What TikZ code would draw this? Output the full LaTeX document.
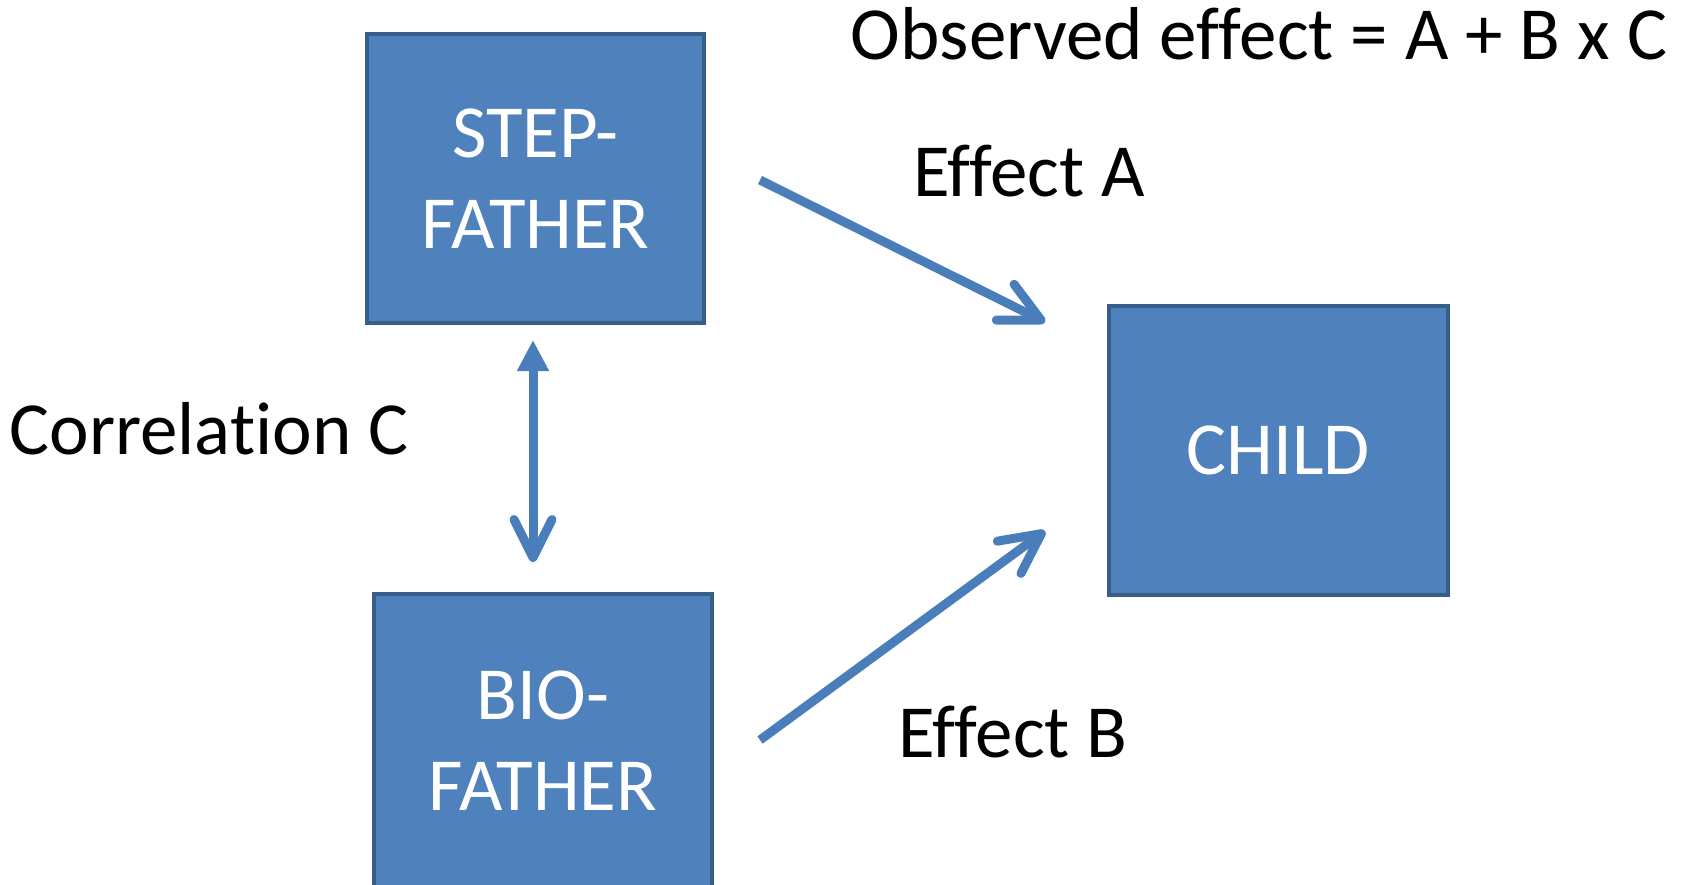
\documentclass[tikz,border=0pt]{standalone}
\usepackage{fontspec}
\setmainfont[Ligatures=NoCommon]{Carlito}
\usetikzlibrary{arrows.meta}
\definecolor{boxfill}{HTML}{4F81BD}
\definecolor{boxline}{HTML}{385D8A}
\definecolor{arrowblue}{HTML}{4A7EBB}
\begin{document}
\begin{tikzpicture}[x=0.5pt,y=-0.5pt,
  every node/.style={inner sep=0pt,outer sep=0pt},
  bigfont/.style={font=\fontsize{37.5}{45.5}\selectfont},
  person/.style={bigfont,rectangle,fill=boxfill,draw=boxline,line width=2pt,
    text=white,align=center},
  label/.style={bigfont,text=black,anchor=base},
  link/.style={draw=arrowblue,line width=4.5pt},
  barb/.style={-{Straight Barb[length=20pt,width=20pt,round]}}
]
\useasboundingbox (0,0) rectangle (1687,884);

% the three boxes
\node[person,minimum width=168.5pt,minimum height=144.5pt] (step) at (535.5,178.5) {STEP-\\FATHER};
\node[person,minimum width=169pt,minimum height=147pt] (bio) at (543,741) {BIO-\\FATHER};
\node[person,minimum width=169.5pt,minimum height=144.5pt] (child) at (1278.5,450.5) {CHILD};

% arrow end points
\coordinate (aS) at (760,180);
\coordinate (aE) at (1045,322);
\coordinate (bS) at (760,740);
\coordinate (bE) at (1045,531);
\coordinate (cT) at (533,340);
\coordinate (cB) at (533,562);

% connectors
\draw[link,barb] (aS) -- (aE);
\draw[link,barb] (bS) -- (bE);
\draw[link,{Triangle[length=15.5pt,width=15pt]}-{Straight Barb[length=19pt,width=19pt,round]}] (cT) -- (cB);

% labels
\node[label] (obs) at (1259,59) {Observed effect = A + B x C};
\node[label] (effa) at (1029,196) {Effect A};
\node[label] (effb) at (1013,757) {Effect B};
\node[label] (corr) at (209,454) {Correlation C};
\end{tikzpicture}
\end{document}
